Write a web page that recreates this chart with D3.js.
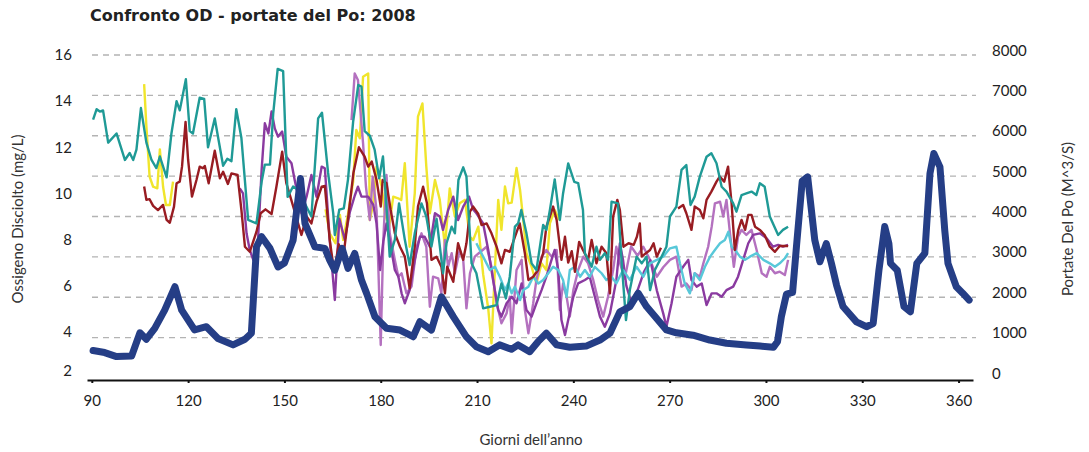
<!DOCTYPE html>
<html>
<head>
<meta charset="utf-8">
<script src="https://cdn.jsdelivr.net/npm/d3@7"></script>
<style>
    body { margin: 0; background: #fff; }
    .diagram text { font-family: Lato, "Open Sans", sans-serif; fill: #222; }
</style>
</head>
<body>
<div class="diagram"></div>
<script>
// days on the x axis
let dayTicks = [90, 120, 150, 180, 210, 240, 270, 300, 330, 360];
let odTicks = [2, 4, 6, 8, 10, 12, 14, 16];
let flowTicks = [0, 1000, 2000, 3000, 4000, 5000, 6000, 7000, 8000];

// portata del Po (m^3/s), [giorno, valore]
let flow = [[90.4,680],[94,630],[97.7,530],[102.4,545],[105,1120],[107,960],[109.6,1230],[112.7,1680],[115.9,2260],[118,1680],[122,1190],[125.7,1270],[129.3,980],[134,820],[137.7,960],[139.7,1110],[141.3,3250],[142.9,3500],[145.5,3210],[148,2750],[150,2850],[152.7,3410],[155,4940],[156.4,3830],[159.5,3250],[162.6,3210],[164.1,2920],[165.7,2670],[168,3210],[169.8,2715],[171.9,3086],[174,2425],[175.6,2096],[178.2,1517],[181.8,1230],[186,1188],[190.1,1022],[192.2,1394],[195.8,1188],[198.9,2012],[202.6,1520],[206.7,1020],[209.8,775],[213.5,650],[217,820],[220.7,710],[222.8,820],[226.4,650],[229,900],[231.6,1110],[234.8,820],[238.9,760],[244,790],[248.3,940],[251.4,1110],[254.5,1640],[257.6,1770],[260.2,2100],[262.8,1770],[265.9,1480],[269,1190],[272.1,1120],[277.3,1060],[282.5,940],[287.7,860],[293.9,820],[298.2,790],[302.3,760],[303.6,900],[304.8,1520],[306.4,2080],[308.3,2120],[309.5,3250],[311.3,4880],[313,4980],[315.2,3420],[316.8,2880],[318.8,3330],[320.4,2840],[322,2300],[324,1770],[328.2,1390],[331.3,1270],[333.4,1350],[335.2,2670],[337,3750],[338.3,3330],[338.8,2840],[340.9,2670],[343,1770],[345,1640],[347,2840],[349.5,3090],[351.1,5070],[352.3,5560],[354.2,5230],[355.7,3660],[356.7,2840],[359.3,2260],[361.3,2100],[363.3,1930]];

// ossigeno disciolto (mg/L) per stazione, [giorno, valore]; null = nessun dato
let odTeal = [[90.4,13.2],[91.5,13.65],[92.5,13.55],[93.5,13.6],[95.1,12.2],[97.7,12.6],[100.3,11.45],[101.8,11.75],[102.9,11.45],[103.9,11.9],[105.3,13.7],[107,12.2],[108.6,11.45],[110.1,11.1],[111.2,11.6],[113.3,10.7],[114.8,12.6],[116.4,14.0],[117.4,13.6],[119.3,14.95],[120.5,12.7],[121.5,12.6],[123.6,14.15],[125,14.1],[126.2,12.0],[128.3,13.25],[130.9,11.2],[132.2,11.5],[133.5,11.4],[135,13.65],[136.6,12.4],[138.7,8.85],[141.3,8.7],[142.9,10.5],[143.9,11.25],[145.5,11.25],[146.5,13.45],[147.9,15.4],[149.6,15.3],[151,9.85],[152.7,10.3],[154.3,10.15],[156.4,9.55],[158.4,9.0],[160.5,13.25],[161.7,13.5],[163.6,10.9],[165.2,9.15],[165.7,8.2],[167.1,9.3],[168.5,9.35],[169.8,10.6],[171.4,13.1],[173,14.7],[174,14.63],[175,12.7],[176.6,12.5],[178.1,11.9],[179.5,10.66],[180.7,11.6],[182,9.0],[182.8,7.26],[184.4,8.0],[185.7,9.57],[187.5,8.0],[189,6.9],[190.6,8.27],[192.7,9.57],[194.2,9.0],[195.8,7.7],[197.4,8.9],[199.4,6.54],[200.5,7.84],[202.1,8.56],[203.1,8.27],[204.2,10.58],[205.7,11.13],[206.7,10.73],[208.3,6.97],[209.8,6.54],[211.9,5.02],[214,5.09],[216.1,5.16],[217.6,6.1],[219,5.45],[220.2,6.39],[221.8,8.56],[222.8,8.7],[223.8,9.28],[225.4,8.27],[227,6.97],[228.5,6.68],[230.6,8.63],[231.6,8.42],[232.7,9.28],[234.2,10.61],[235.8,8.85],[236.8,10.0],[238.4,11.3],[240.3,10.5],[241.5,10.45],[243,9.28],[243.6,7.41],[245.7,6.82],[247.2,7.69],[248.3,7.12],[249.8,7.41],[250.8,7.12],[251.9,9.64],[253.9,9.57],[255,7.12],[256.4,4.51],[257.6,5.81],[259.7,7.26],[261.3,6.97],[262.8,7.26],[263.9,5.81],[265.4,6.68],[267,7.12],[269,7.69],[270.1,9.0],[272.1,9.43],[273.7,11.02],[275.2,11.23],[276.5,9.5],[277.8,9.86],[279.4,10.73],[281.5,11.59],[283,11.74],[284.6,11.31],[286.2,10.29],[287.7,10.08],[289.8,9.57],[290.8,9.21],[292.4,9.93],[293.9,10.0],[295.5,10.08],[297,9.93],[298.1,10.44],[299.6,10.29],[301.2,9.0],[303.8,8.2],[305.3,8.42],[306.9,8.56]];

let odRed = [[106.3,10.3],[107,9.72],[108,9.75],[109.1,9.46],[110.6,9.28],[112.2,9.5],[113.3,8.85],[114.3,8.73],[115.6,9.43],[116.4,10.44],[117.4,10.51],[118.1,11.16],[119.2,13.1],[120,11.45],[121.2,9.86],[122.6,10.58],[123.6,11.16],[124.6,11.09],[125.2,11.19],[126.4,10.44],[128.3,11.85],[129.9,10.66],[130.9,10.94],[132.4,10.41],[133.5,10.87],[135.4,10.8],[136.6,9.28],[137.7,7.69],[139.2,7.47],[141.3,8.34],[142.6,9.14],[144.1,9.31],[146,9.11],[147.5,10.29],[149.3,11.81],[150.6,10.44],[151.7,9.93],[153.2,9.21],[155.3,8.2],[156.9,9.0],[158.4,8.7],[160,9.64],[161.6,10.29],[162.6,10.32],[164.1,8.0],[165.5,6.6],[166.9,7.8],[168.4,7.3],[169.9,9.0],[171.5,10.9],[173.2,12.0],[175,11.59],[176.1,11.16],[177.2,11.38],[178.7,10.58],[180,9.43],[180.6,10.58],[181.8,10.44],[183.1,9.28],[184.4,8.27],[186,7.69],[187.5,7.26],[189,5.89],[190.6,7.69],[191.6,9.43],[193.2,10.29],[194.4,9.57],[195.8,7.12],[197.4,7.26],[198.9,6.82],[200,5.67],[200.7,6.82],[202.6,6.17],[204.1,7.84],[205.7,7.12],[206.7,7.84],[207.8,9.21],[208.8,9.43],[210.4,9.11],[211.4,8.63],[213,8.7],[214.5,8.27],[216.1,7.69],[217.6,6.97],[218.7,7.55],[220.2,7.47],[221.8,8.12],[223.3,8.7],[224.9,7.41],[226,6.25],[227.5,6.39],[229,6.68],[230.6,7.41],[231.6,8.56],[232.7,9.0],[233.7,9.43],[234.8,8.85],[236.3,7.12],[237.4,8.12],[238.4,7.0],[239.5,7.5],[240.5,6.6],[241.8,7.9],[243,7.55],[244.6,7.12],[245.7,7.98],[247.2,6.97],[248.8,7.69],[250.3,7.41],[251.4,5.67],[252.4,9.0],[253.7,9.72],[254.5,9.28],[255.6,7.69],[257.2,7.84],[258.8,7.77],[259.8,8.12],[260.7,8.7],[261.3,7.26],[262.6,7.41],[263.9,7.55],[265,7.84],[266,7.26],[267.3,7.65],[269.5,null],[272.6,9.35],[274.2,9.5],[275.2,9.14],[276.8,8.42],[277.8,9.43],[279.4,9.28],[280.5,8.92],[281.5,9.72],[283,10.08],[284.6,10.51],[285.6,10.73],[287,10.51],[288.2,11.16],[289.3,9.57],[290.3,7.55],[291.4,8.42],[292.4,8.85],[293.5,8.42],[294.5,9.07],[295.5,9.07],[296.6,8.56],[298.1,8.42],[299.6,8.2],[301.2,7.69],[302.8,7.47],[304.3,7.72],[306.9,7.72]];

let odYellow = [[106.3,14.74],[107,12.9],[108,10.73],[109.1,10.29],[110.4,10.22],[111.2,11.91],[112.2,10.29],[113.1,9.5],[114.3,9.5],[115.3,10.51],[116,null],[162.8,9.31],[164.1,8.27],[165.9,7.84],[167.3,9.07],[168.3,7.98],[169.8,9.1],[171.4,10.5],[172.4,12.75],[173.5,12.39],[174.5,15.06],[176.1,15.2],[176.6,8.85],[177.7,9.57],[178.7,11.16],[180.3,10.29],[181.3,9.14],[182.6,8.56],[183.9,9.86],[185.4,9.79],[186.4,9.72],[187.5,11.31],[189,7.69],[190.6,10.0],[191.6,13.33],[193,13.9],[194.2,11.16],[195.3,9.14],[196.9,10.58],[198.4,9.72],[200,7.69],[201.5,10.22],[203.1,9.0],[204.6,9.57],[206.2,9.72],[207.8,8.12],[208.8,7.98],[210.4,8.56],[211.9,6.5],[213.5,5.0],[214.5,3.5],[215.6,6.8],[216.6,9.72],[217.6,8.42],[218.7,10.3],[219.7,9.57],[220.8,9.6],[222.3,11.1],[223.4,10.15],[224.4,8.85],[225.4,7.41],[227,6.82],[228.5,6.1],[230.1,6.97],[231.6,6.68],[232.7,8.7],[234.2,9.28],[235.6,8.85]];

let odPurple = [[136.1,10.22],[137.1,10.0],[138.2,8.27],[139.2,7.55],[140.3,7.12],[141.8,8.06],[142.9,11.02],[143.9,13.04],[145,12.6],[146,13.55],[147,12.82],[148,12.46],[149.3,12.68],[150.6,11.59],[152.2,11.31],[153.2,10.58],[154.3,9.86],[155.3,9.14],[156.9,9.86],[158.4,10.8],[160,9.86],[161.6,11.16],[162.6,11.09],[164.1,8.0],[165.7,5.38],[167.1,8.9],[168.8,8.0],[170.4,9.2],[171.9,9.9],[172.9,10.29],[174,9.86],[176.1,9.86],[177.7,9.5],[178.7,8.7],[179.8,6.68],[180.8,7.91],[181.8,8.7],[182.8,7.98],[184.4,6.68],[185.5,6.39],[186.5,5.67],[187.5,5.24],[189,5.81],[190.6,7.12],[192.2,8.12],[193.7,8.12],[195.3,7.69],[196.9,9.14],[198.4,9.0],[199.4,8.42],[201,9.28],[202.6,9.86],[204.1,8.85],[205.7,9.43],[207.5,9.86],[208.8,9.3],[209.8,9.14],[211.9,8.7],[213.5,7.55],[215,6.25],[216.6,4.95],[217.6,4.66],[219.2,5.24],[220.8,5.52],[222.3,5.24],[223.9,6.1],[225.4,4.95],[227,4.66],[228.5,5.24],[230.1,5.81],[231.6,6.39],[233.2,7.12],[234.2,7.55],[235.3,6.68],[236.3,4.51],[237.4,3.86],[238.4,4.51],[240,5.52],[241.5,6.1],[243.6,6.25],[245.1,6.39],[246.7,5.52],[248.3,4.66],[249.8,4.22],[251.4,4.8],[253.4,6.25],[254.5,7.84],[255.5,7.1],[256.5,6.0],[258,5.3],[260,5.8],[262,6.6],[264,7.1],[266,5.8],[268,4.8],[269,4.22],[270.6,5.24],[272.1,6.39],[274.2,6.82],[275.8,7.12],[276.8,6.25],[278.4,5.96],[280,6.1],[281.5,5.16],[283.1,5.67],[284.6,5.67],[286.2,5.52],[287.7,5.81],[289.8,5.96],[291.3,6.39],[292.9,7.12],[294.5,7.84],[296,8.2],[298.1,8.27],[300.2,8.06],[302.2,7.69],[303.8,7.77],[305.3,7.69],[306.9,7.77]];

let odLilac = [[170.9,13.18],[171.9,15.2],[172.9,14.92],[174.5,12.17],[175.4,10.29],[176.6,8.85],[177.5,10.73],[178.7,9.28],[180,3.43],[180.8,7.98],[181.8,10.8],[182.8,8.27],[184.4,7.12],[185.5,6.39],[186.5,6.54],[188,5.67],[189.6,5.96],[191.2,7.69],[192.7,8.27],[194.2,7.69],[195.3,5.09],[196.3,6.39],[197.9,6.32],[198.9,5.67],[200,7.98],[201,6.82],[202.1,7.41],[203.1,6.54],[204.6,7.55],[205.7,7.12],[206.7,5.02],[207.8,6.54],[209.3,7.26],[210.9,7.45],[213,7.69],[214.5,6.82],[216.1,5.24],[217.6,4.37],[219.2,4.8],[220.2,5.52],[220.8,3.94],[222.3,6.68],[223.9,7.12],[224.9,4.95],[226,3.94],[227.5,5.24],[228.5,6.25],[230.1,7.26],[231.6,7.55],[233.2,7.26],[234.8,7.55],[235.8,4.95],[236.8,6.1],[237.9,5.52],[238.9,4.66],[240,5.81],[241.5,6.68],[243.1,7.26],[244.6,6.97],[246.2,6.25],[247.7,5.38],[249.3,4.66],[250.8,5.52],[252.4,6.68],[253.4,7.69],[254.5,7.0],[256,6.3],[258,7.7],[260,7.3],[261.8,7.69],[263.9,7.12],[266,6.39],[268,6.8],[270.1,7.12],[272.1,7.26],[273.7,5.96],[275.2,6.1],[276.8,5.81],[277.8,6.54],[279.4,6.39],[280.5,6.97],[282,7.69],[283.1,8.56],[284.1,9.57],[285.7,9.64],[286.7,9.0],[287.7,9.72],[288.8,8.27],[290,6.82],[291.3,8.12],[292.4,8.42],[293.9,8.2],[295.5,8.42],[297.1,7.55],[298.7,6.54],[300.2,6.39],[301.2,6.82],[302.8,6.54],[304.3,6.61],[305.9,6.46],[306.9,7.12]];

let odCyan = [[209.8,7.84],[211.9,7.26],[214,6.68],[215.6,6.82],[217.1,6.39],[218.7,5.81],[219.7,6.1],[220.8,5.67],[221.8,5.96],[223.4,5.38],[224.4,5.81],[226,5.96],[227.5,6.39],[229.1,6.1],[230.6,6.25],[232.2,6.54],[233.7,6.82],[235.3,6.68],[236.8,6.25],[237.9,5.52],[238.9,6.68],[240.5,6.82],[242.1,6.39],[243.6,6.68],[245.1,6.39],[246.7,6.82],[248.8,6.54],[250.3,6.25],[251.9,6.39],[253.4,6.1],[255.5,6.68],[257.6,6.25],[259.7,6.82],[261.8,6.39],[263.9,6.97],[266,7.12],[268,7.26],[270.1,7.62],[272.1,7.69],[273.2,6.97],[274.7,6.1],[276.3,5.67],[277.8,6.54],[279.4,6.25],[281,6.82],[282.6,7.26],[284.1,7.55],[285.7,7.84],[287.2,7.98],[288.3,8.34],[289.3,7.69],[290.4,7.55],[291.9,7.26],[293.5,7.12],[295,7.26],[297.1,7.41],[299.2,7.12],[301.2,6.97],[302.8,6.82],[304.3,6.97],[305.9,7.19],[306.9,7.41]];

let config = {
    baseElement: d3.select(".diagram"),
    width: 1089,
    height: 452,
    left: 87,
    right: 973,
    top: 55,
    bottom: 378
};

let svg = config.baseElement.append("svg")
    .attr("width", config.width)
    .attr("height", config.height);

let x = d3.scaleLinear().domain([88.5, 364.5]).range([config.left, config.right]);
let yOD = d3.scaleLinear().domain([2, 16]).range([config.bottom, config.top]);
let yFlow = d3.scaleLinear().domain([0, 8000]).range([config.bottom, config.top]);

// dashed grid from the secondary axis
svg.append("g").selectAll("line")
    .data(flowTicks.filter(d => d > 0))
    .enter().append("line")
    .attr("x1", 92).attr("x2", 976)
    .attr("y1", d => yFlow(d)).attr("y2", d => yFlow(d))
    .style("stroke", "#b3b3b3")
    .style("stroke-width", 1.4)
    .style("stroke-dasharray", "6,5");

let odLine = d3.line()
    .defined(d => d[1] != null)
    .x(d => x(d[0]))
    .y(d => yOD(d[1]));

let stations = [
    { data: odYellow, color: "#f0e52c" },
    { data: odLilac, color: "#b471bf" },
    { data: odPurple, color: "#8a3aa0" },
    { data: odCyan, color: "#58c8d9" },
    { data: odRed, color: "#981c22" },
    { data: odTeal, color: "#1f9a96" }
];

svg.append("g").selectAll("path")
    .data(stations)
    .enter().append("path")
    .attr("d", d => odLine(d.data))
    .style("fill", "none")
    .style("stroke", d => d.color)
    .style("stroke-width", 2.4)
    .style("stroke-linejoin", "round");

let flowLine = d3.line()
    .x(d => x(d[0]))
    .y(d => yFlow(d[1]));

svg.append("path")
    .attr("d", flowLine(flow))
    .style("fill", "none")
    .style("stroke", "#253e86")
    .style("stroke-width", 7)
    .style("stroke-linejoin", "round")
    .style("stroke-linecap", "round");

// x axis
let xAxis = svg.append("g")
    .attr("transform", "translate(0," + 380 + ")")
    .call(d3.axisBottom(x).tickValues(dayTicks).tickFormat(d3.format("d"))
        .tickSize(3).tickSizeOuter(0).tickPadding(12));
xAxis.select(".domain").style("stroke", "#111").style("stroke-width", 2.2);
xAxis.selectAll(".tick line").style("stroke", "#111").style("stroke-width", 2);
xAxis.selectAll("text").style("font-size", "15px");

// left axis (ossigeno)
let leftAxis = svg.append("g")
    .attr("transform", "translate(72,0)")
    .call(d3.axisLeft(yOD).tickValues(odTicks).tickSize(0).tickPadding(0));
leftAxis.select(".domain").remove();
leftAxis.selectAll("text").style("font-size", "15px")
    .attr("dy", d => d == 2 ? "-0.2em" : "0.32em");

// right axis (portate)
let rightAxis = svg.append("g")
    .attr("transform", "translate(992,0)")
    .call(d3.axisRight(yFlow).tickValues(flowTicks).tickFormat(d3.format("d"))
        .tickSize(0).tickPadding(0));
rightAxis.select(".domain").remove();
rightAxis.selectAll("text").style("font-size", "15px").attr("dy", "0.0em");

svg.append("text")
    .attr("x", 90).attr("y", 21)
    .style("font-family", "'DejaVu Sans', sans-serif")
    .style("font-size", "16px")
    .style("font-weight", "bold")
    .text("Confronto OD - portate del Po: 2008");

svg.append("text")
    .attr("transform", "translate(23,219) rotate(-90)")
    .attr("text-anchor", "middle")
    .style("font-size", "15px")
    .style("fill", "#333")
    .text("Ossigeno Disciolto (mg/L)");

svg.append("text")
    .attr("transform", "translate(1073,219) rotate(-90)")
    .attr("text-anchor", "middle")
    .style("font-size", "15px")
    .style("fill", "#333")
    .text("Portate Del Po (M^3/S)");

svg.append("text")
    .attr("x", 531).attr("y", 445)
    .attr("text-anchor", "middle")
    .style("font-size", "15px")
    .style("fill", "#333")
    .text("Giorni dell’anno");
</script>
</body>
</html>
